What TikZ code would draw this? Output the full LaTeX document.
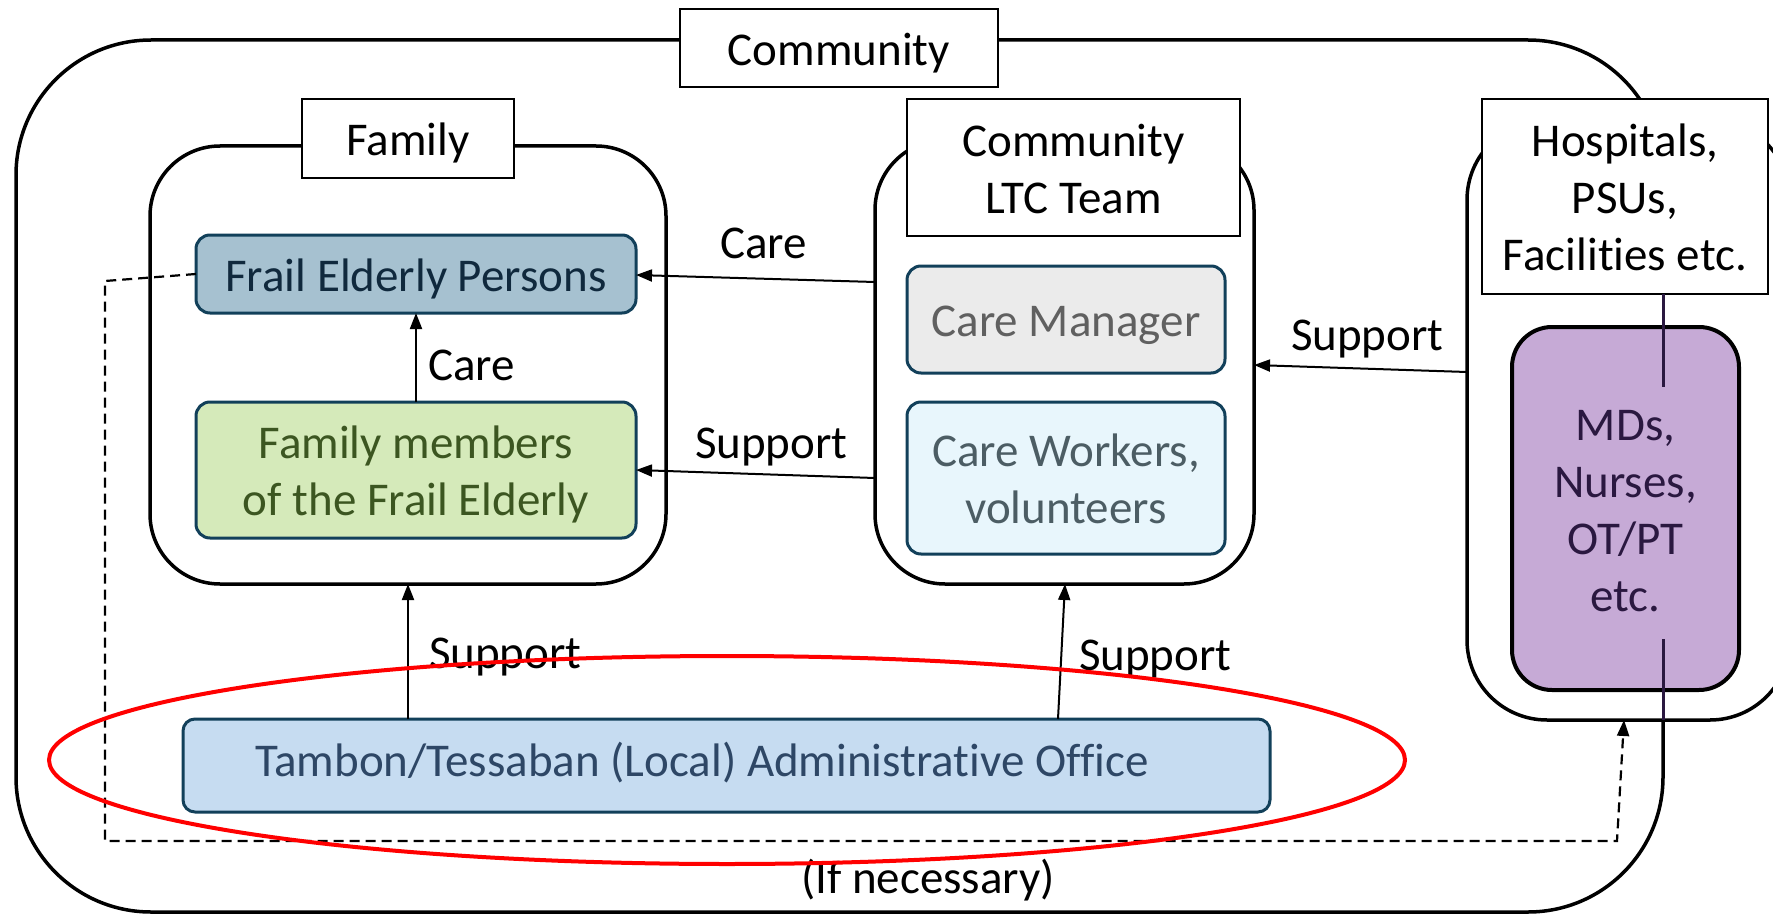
\documentclass[tikz,border=0pt]{standalone}
\usepackage{fontspec}
\setmainfont{Carlito}[Ligatures={NoCommon}]
\usetikzlibrary{arrows.meta}
\definecolor{tealborder}{HTML}{12405A}
\definecolor{frailfill}{HTML}{A6C1D0}
\definecolor{frailtext}{HTML}{10293D}
\definecolor{famfill}{HTML}{D5EABA}
\definecolor{famtext}{HTML}{3C5621}
\definecolor{mgrfill}{HTML}{EBEBEB}
\definecolor{mgrtext}{HTML}{606060}
\definecolor{wrkfill}{HTML}{E8F6FC}
\definecolor{wrktext}{HTML}{4C5D64}
\definecolor{tamfill}{HTML}{C6DCF1}
\definecolor{tamtext}{HTML}{2E4766}
\definecolor{mdfill}{HTML}{C6AAD6}
\definecolor{mdtext}{HTML}{2A1840}
\definecolor{ellred}{HTML}{FF0000}
\newcommand{\lowtxt}[1]{\raisebox{-6pt}[\height][\depth]{\begin{tabular}{@{}c@{}}#1\end{tabular}}}
\begin{document}
\begin{tikzpicture}[x=1pt,y=-1pt,
  every node/.style={font=\fontsize{47}{57}\selectfont, inner sep=0pt, outer sep=0pt},
  bigbox/.style={draw=black, line width=3.5pt, fill=white, rounded corners=70pt},
  titlebox/.style={draw=black, line width=1.8pt, fill=white, align=center},
  rolebox/.style={draw=tealborder, line width=3pt, rounded corners=14pt, align=center},
  arr/.style={line width=2pt, -{Triangle[length=16pt,width=12pt]}},
  dasharr/.style={line width=2.2pt, dash pattern=on 10pt off 6pt, -{Triangle[length=16pt,width=12pt]}},
  lbl/.style={anchor=base west}
]
\useasboundingbox (0,0) rectangle (1773,915);
\fill[white] (0,0) rectangle (1773,915);

% Community
\node[draw=black, line width=3.5pt, rounded corners=135pt, minimum width=1647pt, minimum height=872pt] (community) at (839.5,476) {};
\node[titlebox, minimum width=318pt, minimum height=78pt] (communitytitle) at (839,48) {\lowtxt{Community}};

% Family
\node[bigbox, minimum width=516pt, minimum height=438pt] (family) at (408,365) {};
\node[titlebox, minimum width=212pt, minimum height=79pt] (familytitle) at (408,138.5) {\lowtxt{Family}};
\node[rolebox, fill=frailfill, text=frailtext, minimum width=440pt, minimum height=78pt] (frail) at (416,274) {\lowtxt{Frail Elderly Persons}};
\node[rolebox, fill=famfill, text=famtext, minimum width=440pt, minimum height=136pt] (fammem) at (416,470) {\lowtxt{Family members\\of the Frail Elderly}};

% Community LTC Team
\node[bigbox, minimum width=379pt, minimum height=444pt] (ltc) at (1064.5,362) {};
\node[titlebox, minimum width=333pt, minimum height=137pt] (ltctitle) at (1073.5,167.5) {\lowtxt{Community\\LTC Team}};
\node[rolebox, fill=mgrfill, text=mgrtext, minimum width=318pt, minimum height=107pt] (mgr) at (1066,319.5) {\lowtxt{Care Manager}};
\node[rolebox, fill=wrkfill, text=wrktext, minimum width=318pt, minimum height=152pt] (wrk) at (1066,478) {\lowtxt{Care Workers,\\volunteers}};

% Hospitals
\node[draw=black, line width=3.5pt, fill=white, rounded corners=80pt, minimum width=323pt, minimum height=600pt] (hosp) at (1628.5,420) {};
\node[titlebox, minimum width=286pt, minimum height=195pt] (hosptitle) at (1625,196.5) {\lowtxt{Hospitals,\\PSUs,\\Facilities etc.}};
\node[draw=black, line width=4pt, fill=mdfill, text=mdtext, rounded corners=40pt, minimum width=227pt, minimum height=363pt, align=center] (mds) at (1625.5,508.5) {\lowtxt{MDs,\\Nurses,\\OT/PT\\etc.}};
\draw[line width=3pt, color=mdtext] (hosptitle.south -| 1663,0) -- (1663,387);
\draw[line width=3pt, color=mdtext] (1663,639) -- (1663,720);

% Tambon
\node[rolebox, fill=tamfill, minimum width=1087pt, minimum height=93pt, rounded corners=12pt] (tambon) at (726.5,765.5) {};
\node[text=tamtext] (tambontext) at (702,763) {Tambon/Tessaban (Local) Administrative Office};

% arrows
\draw[arr] (fammem) -- (frail);
\node[lbl] (carelbl1) at (428,380) {Care};
\draw[arr] ([yshift=80pt]ltc.west) -- ([yshift=-1pt]frail.east);
\node[lbl] (carelbl2) at (720,258) {Care};
\draw[arr] ([yshift=-116pt]ltc.west) -- (fammem.east);
\node[lbl] (suplbl1) at (695,458) {Support};
\draw[arr] ([xshift=-318.5pt]tambon.north) -- (family.south);
\node[lbl] (suplbl2) at (429,668) {Support};
\draw[arr] ([xshift=331.5pt]tambon.north) -- ([xshift=0.5pt]ltc.south);
\node[lbl] (suplbl3) at (1079,670) {Support};
\draw[arr] ([yshift=48pt]hosp.west) -- ([yshift=-3pt]ltc.east);
\node[lbl] (suplbl4) at (1291,350) {Support};

% dashed
\coordinate (d1) at (105,281);
\coordinate (d2) at (105,841);
\coordinate (d3) at (1617,841);
\draw[dasharr] (frail.west) -- (d1) -- (d2) -- (d3) -- ([xshift=-4.5pt]hosp.south);
\node[lbl] (ifnec) at (801,893) {(If necessary)};

% red ellipse
\draw[ellred, line width=4pt] (727,760) ellipse [x radius=678pt, y radius=104pt];
\end{tikzpicture}
\end{document}
